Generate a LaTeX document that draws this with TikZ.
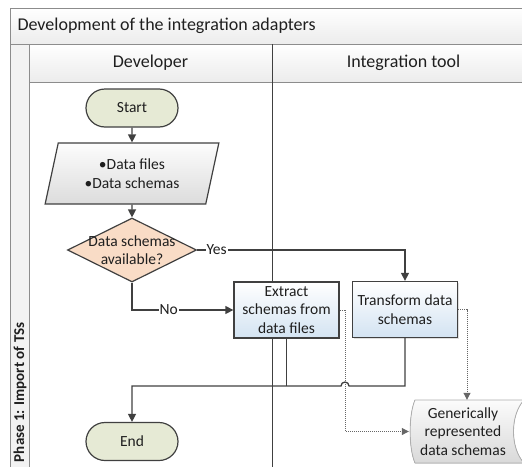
\documentclass[tikz,border=0pt]{standalone}
\usepackage{fontspec}
\setmainfont{Carlito}
\usetikzlibrary{arrows.meta,shapes.geometric,shapes.misc,shadows}

\definecolor{inkgray}{HTML}{404040}
\definecolor{framegray}{HTML}{8C8C8C}
\definecolor{textcol}{HTML}{1F1F1F}
\definecolor{termfill}{HTML}{E6EAD5}
\definecolor{decfill}{HTML}{F9DCC6}
\definecolor{procblue}{HTML}{D3E3F2}
\definecolor{iogray}{HTML}{DCDCDC}
\definecolor{storegray}{HTML}{D9D9D9}
\definecolor{hdrgray}{HTML}{ECECEC}
\definecolor{phasefill}{HTML}{F2F2F2}

\newcommand\nodesize{\fontsize{15.5}{18.5}\selectfont}
\newcommand\headsize{\fontsize{18}{20}\selectfont}

\begin{document}
\begin{tikzpicture}[x=1pt,y=-1pt,
  every node/.style={font=\nodesize, text=textcol},
  terminal/.style={rounded rectangle, draw=inkgray, line width=1.2pt,
    fill=termfill, minimum width=92pt, minimum height=38pt, inner sep=0pt},
  iobox/.style={trapezium, trapezium left angle=74, trapezium right angle=106,
    trapezium stretches=true, draw=inkgray, line width=1.2pt,
    top color=white!92!iogray, bottom color=iogray,
    minimum width=174pt, minimum height=61pt, inner sep=0pt, align=center},
  decision/.style={diamond, draw=inkgray, line width=1.2pt, fill=decfill,
    minimum width=129pt, minimum height=64pt, inner sep=0pt},
  process/.style={rectangle, draw=inkgray, line width=1.3pt,
    top color=white, bottom color=procblue,
    minimum width=105pt, minimum height=56pt, inner sep=0pt, align=center,
    drop shadow={shadow xshift=1pt, shadow yshift=-1pt, opacity=0.25}},
  store/.style={rectangle, draw=none, minimum width=108pt, minimum height=63pt,
    inner sep=0pt, align=center},
  flow/.style={draw=inkgray, line width=1.3pt,
    -{Triangle[length=8pt,width=8pt]}},
  plain/.style={draw=inkgray, line width=1.3pt},
  dotflow/.style={draw=inkgray!80, line width=1pt, dash pattern=on 1pt off 1pt,
    -{Triangle[length=7pt,width=7pt]}},
  lbl/.style={fill=white, inner sep=1pt}
]
\useasboundingbox (0,0) rectangle (522,466);

% pool and lane frame
\begin{scope}
  \clip (0,0) rectangle (522,466);
  \shade[top color=white, bottom color=hdrgray] (10,8) rectangle (560,44);
  \shade[top color=white, bottom color=hdrgray] (29,44) rectangle (560,82);
  \fill[phasefill] (10,44) rectangle (29,500);
  \draw[framegray, line width=1pt] (10,500) -- (10,8) -- (560,8);
  \draw[framegray, line width=1pt] (10,44) -- (560,44);
  \draw[framegray, line width=1pt] (29,44) -- (29,500);
  \draw[framegray, line width=1pt] (29,82) -- (560,82);
  \draw[inkgray, line width=1pt] (272,44) -- (272,500);
\end{scope}

% titles
\node[anchor=west, font=\headsize] (title) at (14,26) {Development of the integration adapters};
\node[font=\headsize] (devlane) at (150.5,63) {Developer};
\node[font=\headsize] (toollane) at (403.5,63) {Integration tool};
\node[rotate=90, anchor=east, font=\fontsize{15}{18}\selectfont\bfseries] (phase) at (20,319) {Phase 1: Import of TSs};

% flow nodes
\node[terminal] (start) at (132,108) {Start};
\node[iobox] (data) at (132,173.5) {•Data files\\•Data schemas};
\node[decision] (dec) at (132,250) {};
\node[align=center, inner sep=0pt] (dectext) at (dec.center) {Data schemas\\available?};
\node[process] (extract) at (286.5,310) {Extract\\schemas from\\data files};
\node[process] (transform) at (405,309.5) {Transform data\\schemas};
\node[terminal] (end) at (132,441.5) {End};

% stored data outline, then its text
\fill[top color=white!90!storegray, bottom color=storegray]
  (415,400) -- (524,400) .. controls (510,415) and (510,448) .. (524,463)
  -- (415,463) .. controls (408.5,448) and (408.5,415) .. (415,400) -- cycle;
\draw[framegray!70, line width=0.8pt]
  (524,400) -- (415,400) .. controls (408.5,415) and (408.5,448) .. (415,463) -- (524,463);
\draw[framegray!70, line width=0.8pt]
  (524,400) .. controls (510,415) and (510,448) .. (524,463);
\node[store] (generic) at (463,431.5) {Generically\\represented\\data schemas};

% connectors
\coordinate (join) at (132,386);
\coordinate (hopR) at (349,386);

\draw[flow] (start) -- (data);
\draw[flow] (data) -- (dec);
\draw[flow] (dec.east) -| node[lbl, pos=0.047] (yes) {Yes} (transform.north);
\draw[flow] (dec.south) |- node[lbl, pos=0.681] (no) {No} (extract.west);

\draw[dotflow] (extract.east) -- ++(6,0) |- (generic.west);
\draw[dotflow] (transform.east) -| ([xshift=4pt]generic.north);

\draw[plain] (extract.south) -- (extract.south |- join);
\draw[flow] (transform.south) |- (hopR)
  arc[start angle=0, end angle=-180, radius=4] -- (join) -- (end.north);
\end{tikzpicture}
\end{document}
